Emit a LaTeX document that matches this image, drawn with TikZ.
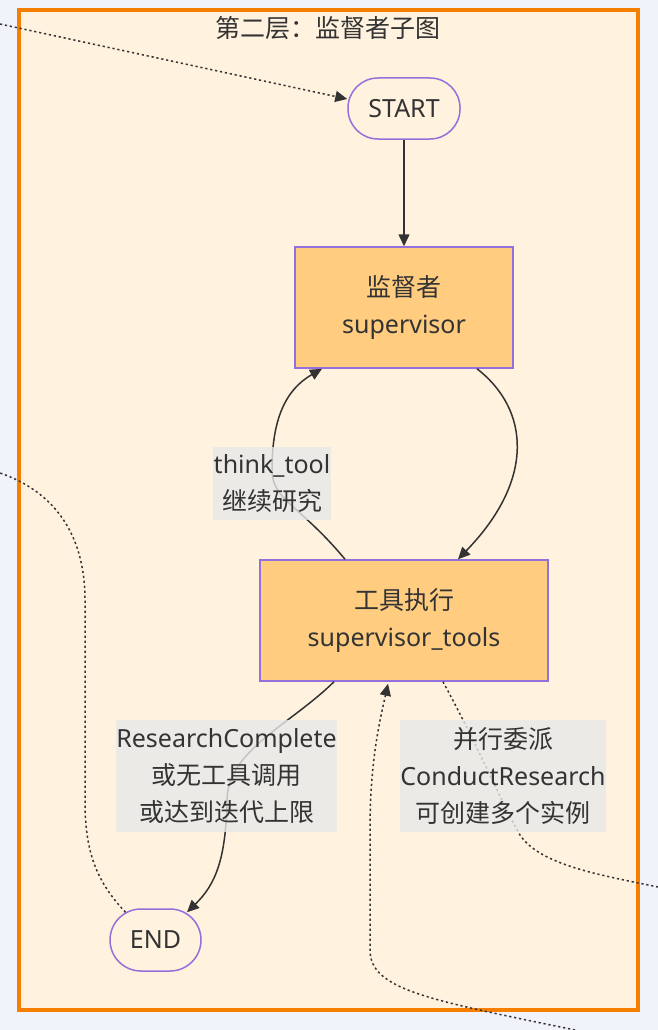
\documentclass[tikz,border=0pt]{standalone}
\usepackage{fontspec}
\setmainfont{Noto Sans}
\newfontfamily\cjk{Noto Sans CJK SC}
\usetikzlibrary{arrows.meta}
\definecolor{bgc}{RGB}{240,243,250}
\definecolor{clusterfill}{RGB}{255,242,222}
\definecolor{clusterline}{RGB}{247,127,0}
\definecolor{nodefill}{RGB}{255,204,128}
\definecolor{nodeline}{RGB}{147,112,219}
\definecolor{ink}{RGB}{51,51,51}
\definecolor{labelbg}{RGB}{232,232,232}
\newcommand{\zh}[1]{{\cjk #1}}
\begin{document}
\begin{tikzpicture}[x=1pt,y=-1pt,
  txt/.style={text=ink,font=\fontsize{25}{37}\selectfont,align=center},
  stadium/.style={txt,draw=nodeline,line width=1.5pt,fill=clusterfill,rounded corners=30pt,inner sep=0pt},
  procbox/.style={txt,draw=nodeline,line width=1.5pt,fill=nodefill,inner sep=0pt},
  elabel/.style={txt,fill=labelbg,fill opacity=0.8,text opacity=1,inner sep=0pt},
  edge/.style={draw=ink,line width=1.5pt},
  arr/.style={-{Triangle[length=12pt,width=11pt]}},
  dotline/.style={draw=ink,line width=1.5pt,dash pattern=on 2.2pt off 2.8pt}]
\useasboundingbox (0,0) rectangle (658,1030);
\fill[bgc] (0,0) rectangle (658,1030);
\draw[clusterline,fill=clusterfill,line width=4pt] (19,10) rectangle (638,1009.5);
\node[txt] (title) at (328,28) {\zh{第二层：监督者子图}};

\node[stadium,minimum width=112pt,minimum height=61pt] (start) at (404,108.5) {START};
\node[procbox,minimum width=218pt,minimum height=121pt] (sup) at (404,307.5) {\zh{监督者}\\supervisor};
\node[procbox,minimum width=288pt,minimum height=121pt] (tools) at (404,620.5) {\zh{工具执行}\\supervisor\_tools};
\node[stadium,rounded corners=31pt,minimum width=91pt,minimum height=62pt] (endn) at (155.5,940) {END};

\coordinate (inA) at (0,24);
\coordinate (outA) at (0,473);
\coordinate (outB) at (658,887);
\coordinate (inB) at (575,1030);

% solid edges
\draw[edge,arr] (start.south) -- (sup.north);
\draw[edge,arr] ([xshift=73pt]sup.south) .. controls (530,410) and (535,480) .. ([xshift=54pt]tools.north);
\draw[edge,arr] ([xshift=-59pt]tools.north) .. controls (300,505) and (272,500) .. (272,470)
   .. controls (272,420) and (285,390) .. ([xshift=-82pt]sup.south);
\draw[edge,arr] ([xshift=-70pt]tools.south) .. controls (290,725) and (228,750) .. (227,800)
   .. controls (226,860) and (215,885) .. ([xshift=31.5pt,yshift=-4pt]endn.north);

% dotted edges
\draw[dotline,arr] (inA) -- ([yshift=9.5pt]start.west);
\draw[dotline] ([xshift=-30pt,yshift=-4pt]endn.north) .. controls (95,880) and (85,850) .. (85,800)
   -- (85,600) .. controls (85,530) and (50,490) .. (outA);
\draw[dotline] ([xshift=39pt]tools.south) .. controls (480,750) and (500,800) .. (520,835)
   .. controls (540,865) and (600,875) .. (outB);
\draw[dotline,arr] (inB) .. controls (430,1000) and (370,990) .. (370,950) -- (370,830)
   .. controls (370,760) and (380,720) .. ([xshift=-16pt,yshift=-2pt]tools.south);

% edge labels
\node[elabel,minimum width=118pt,minimum height=73pt] (lthink) at (272,483.5) {think\_tool\\\zh{继续研究}};
\node[elabel,minimum width=221pt,minimum height=112pt] (ldone) at (226.5,776) {ResearchComplete\\\zh{或无工具调用}\\\zh{或达到迭代上限}};
\node[elabel,minimum width=206pt,minimum height=112pt] (lpar) at (503,776) {\zh{并行委派}\\ConductResearch\\\zh{可创建多个实例}};
\end{tikzpicture}
\end{document}
